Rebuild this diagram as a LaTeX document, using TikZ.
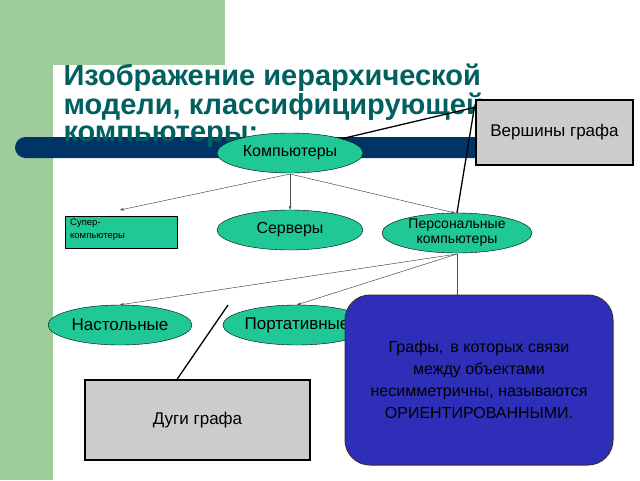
\documentclass[tikz,border=0pt]{standalone}
\usepackage{fontspec}
\setmainfont{Liberation Sans}
\usetikzlibrary{shapes.geometric,arrows.meta}
\definecolor{gr}{RGB}{158,204,154}
\definecolor{navy}{RGB}{0,51,102}
\definecolor{teal1}{RGB}{0,96,96}
\definecolor{el}{RGB}{32,200,150}
\definecolor{bl}{RGB}{46,46,184}
\begin{document}
\begin{tikzpicture}[x=1pt,y=-1pt,
  ell/.style={ellipse,draw=black,fill=el,minimum width=146pt,minimum height=40pt,inner sep=0pt,font=\fontsize{16}{18}\selectfont},
  gbox/.style={draw=black,line width=1.2pt,fill=black!20,font=\fontsize{17}{20}\selectfont},
  arr/.style={-{Stealth[length=4pt,width=3pt]},draw=black!70,line width=0.5pt},
  ptr/.style={line width=1.3pt}]
\useasboundingbox (0,0) rectangle (640,480);
\fill[white] (0,0) rectangle (640,480);
\fill[gr] (0,0) rectangle (225,65);
\fill[gr] (0,0) rectangle (53,480);
\fill[white,rounded corners=14pt] (53,65) rectangle (240,120);
\fill[white] (53,80) rectangle (240,130);
\fill[navy,rounded corners=10.5pt] (15,137) rectangle (490,158);
\node[anchor=west,text=teal1,font=\bfseries\fontsize{29}{27.5}\selectfont,align=left] (title) at (60,106) {Изображение иерархической\\модели, классифицирующей\\компьютеры:};
\node[gbox,minimum width=157pt,minimum height=65pt] (v) at (554.5,132.5) {Вершины графа};
\node[ell] (k) at (290,153) {Компьютеры};
\node[ell] (s) at (290,230) {Серверы};
\node[ell,minimum width=150pt,align=center,font=\fontsize{14}{15}\selectfont] (p) at (457,233) {Персональные\\компьютеры};
\node[draw=black,fill=el,minimum width=112pt,minimum height=32pt,anchor=north west,inner sep=3pt] (sk) at (65,216) {};
\node[anchor=north west,align=left,font=\fontsize{9.5}{13}\selectfont,inner sep=0pt] (skt) at (70,219) {Супер-\\компьютеры};
\node[ell,minimum width=144pt,font=\fontsize{17}{18}\selectfont] (n) at (120,325) {Настольные};
\node[ell,minimum width=144pt,font=\fontsize{17}{18}\selectfont] (pt) at (297,325) {Портативные};
\coordinate (kb) at (290,174);
\coordinate (pb) at (457,254);
\draw[arr] (kb) -- (120,210);
\draw[arr] (kb) -- (s.north);
\draw[arr] (kb) -- (455,213);
\draw[arr] (pb) -- (n.north);
\draw[arr] (pb) -- (pt.north);
\draw[draw=black!70] (pb) -- (457,300);
\draw[ptr] (v.north west) ++(-1,8) coordinate (v1) -- (k.north east);
\draw[ptr] (v1) -- (p.north);
\node[draw=black!80,line width=1pt,fill=bl,rounded corners=25pt,minimum width=268pt,minimum height=170pt,align=center,font=\fontsize{16}{22}\selectfont] (o) at (479,380) {Графы,\, в которых связи\\между объектами\\несимметричны, называются\\ОРИЕНТИРОВАННЫМИ.};
\node[gbox,minimum width=225pt,minimum height=80pt] (d) at (197.5,420) {Дуги графа};
\draw[ptr] (228,305) -- (d.north -| 177,0);
\end{tikzpicture}
\end{document}
